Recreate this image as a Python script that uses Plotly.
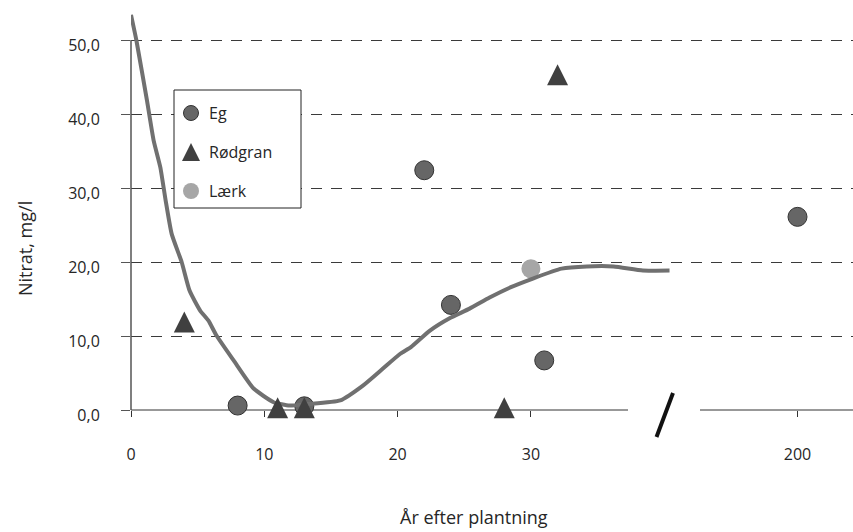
import plotly.graph_objects as go

# ---- data -------------------------------------------------------------
eg_years = [8, 13, 22, 24, 31, 200]
eg_nitrat = [0.6, 0.5, 32.4, 14.2, 6.7, 26.1]

rodgran_years = [4, 11, 13, 28, 32]
rodgran_nitrat = [11.9, 0.3, 0.3, 0.3, 45.3]

laerk_years = [30]
laerk_nitrat = [19.1]

trend_years = [0, 0.4, 1.2, 1.7, 2.2, 2.6, 3.05, 3.8, 4.4, 5.2, 5.8, 6.4, 7.7,
               9.2, 10.7, 11.9, 13.2, 15.7, 17.4, 18.9, 20.2, 21.0, 22.4, 23.9,
               25.4, 26.9, 28.5, 30.2, 32.3, 34.2, 36.2, 38.4, 40.4]
trend_nitrat = [53.4, 50.0, 41.8, 36.4, 32.8, 28.3, 23.8, 20.0, 16.1, 13.4, 12.1,
                10.1, 6.7, 2.9, 1.05, 0.6, 0.8, 1.3, 3.3, 5.6, 7.6, 8.5, 10.7,
                12.4, 13.7, 15.2, 16.6, 17.8, 19.1, 19.4, 19.4, 18.85, 18.85]

x_ticks = [0, 10, 20, 30, 200]
y_ticks = [0, 10, 20, 30, 40, 50]
y_tick_labels = ["0,0", "10,0", "20,0", "30,0", "40,0", "50,0"]

legend_names = ["Eg", "Rødgran", "Lærk"]

# ---- geometry ---------------------------------------------------------
W, H = 853, 532
ML, MR, MT, MB = 131, 0, 8, 122
PLOT_W, PLOT_H = W - ML - MR, H - MT - MB
X_PX, Y_PX = 13.33, 7.4          # pixels per year / per mg/l
X_MAX, Y_MAX = PLOT_W / X_PX, PLOT_H / Y_PX

TRI_SIZE, LEG_TRI_SIZE = 21, 18


def axis_x(year):
    # the axis is broken after ~40 years; 200 years sits at position 50
    return year if year < 100 else year - 150


def paper_x(px):
    return (px - ML) / PLOT_W


def paper_y(py):
    return (H - MB - py) / PLOT_H


def data_x(px):
    return (px - ML) / X_PX


def data_y(py):
    return (H - MB - py) / Y_PX


def triangle_axis(size):
    # "arrow-up" puts its tip on the point; an overlaid y axis lifted by half
    # the symbol height centres the triangle on its value instead
    lift = (size / 2) / Y_PX
    return dict(overlaying="y", range=[-lift, Y_MAX - lift], visible=False,
                showgrid=False, zeroline=False)


FONT = "Open Sans"
TEXT_COLOR = "#262626"
EG_FILL, EG_LINE = "#666666", "#333333"
ROD_FILL = "#404040"
LAERK_FILL = "#a6a6a6"
TREND_COLOR = "#707070"

fig = go.Figure()

# ---- series -----------------------------------------------------------
fig.add_trace(go.Scatter(
    x=[axis_x(v) for v in laerk_years], y=laerk_nitrat, mode="markers",
    marker=dict(symbol="circle", size=19, color=LAERK_FILL,
                line=dict(width=0)),
    cliponaxis=False, showlegend=False, hoverinfo="skip"))

fig.add_trace(go.Scatter(
    x=[axis_x(v) for v in eg_years], y=eg_nitrat, mode="markers",
    marker=dict(symbol="circle", size=19, color=EG_FILL,
                line=dict(width=1, color=EG_LINE)),
    cliponaxis=False, showlegend=False, hoverinfo="skip"))

fig.add_trace(go.Scatter(
    x=trend_years, y=trend_nitrat, mode="lines",
    line=dict(color=TREND_COLOR, width=4, shape="spline", smoothing=0.5),
    showlegend=False, hoverinfo="skip"))

fig.add_trace(go.Scatter(
    x=[axis_x(v) for v in rodgran_years], y=rodgran_nitrat, mode="markers",
    yaxis="y2",
    marker=dict(symbol="arrow-up", size=TRI_SIZE, color=ROD_FILL, line=dict(width=0)),
    cliponaxis=False, showlegend=False, hoverinfo="skip"))

# ---- hand-drawn legend ------------------------------------------------
LEG_LEFT, LEG_TOP, LEG_RIGHT, LEG_BOTTOM = 174, 90, 301, 208
LEG_MARK_X, LEG_TEXT_X = 191, 207
leg_rows = [113, 152, 191]
leg_styles = [
    dict(symbol="circle", size=15, color=EG_FILL, line=dict(width=1, color=EG_LINE)),
    dict(symbol="arrow-up", size=LEG_TRI_SIZE, color=ROD_FILL, line=dict(width=0)),
    dict(symbol="circle", size=16, color=LAERK_FILL, line=dict(width=0)),
]
leg_axes = ["y", "y3", "y"]

fig.add_shape(type="rect", xref="x", yref="y", layer="between",
              x0=data_x(LEG_LEFT), x1=data_x(LEG_RIGHT),
              y0=data_y(LEG_BOTTOM), y1=data_y(LEG_TOP),
              line=dict(color="#222222", width=1), fillcolor="white")

for name, row, style, yax in zip(legend_names, leg_rows, leg_styles, leg_axes):
    fig.add_trace(go.Scatter(
        x=[data_x(LEG_MARK_X)], y=[data_y(row)], mode="markers", yaxis=yax,
        marker=style, cliponaxis=False, showlegend=False, hoverinfo="skip"))
    fig.add_annotation(text=name, xref="paper", yref="paper",
                       x=paper_x(LEG_TEXT_X), y=paper_y(row),
                       xanchor="left", yanchor="middle", showarrow=False,
                       font=dict(family=FONT, size=16, color=TEXT_COLOR))

# ---- axis lines and break marker ---------------------------------------
AXIS_COLOR = "#333333"
fig.add_shape(type="line", xref="paper", yref="paper", layer="below",
              x0=0, x1=paper_x(628), y0=0, y1=0,
              line=dict(color=AXIS_COLOR, width=1))
fig.add_shape(type="line", xref="paper", yref="paper", layer="below",
              x0=paper_x(700), x1=1, y0=0, y1=0,
              line=dict(color=AXIS_COLOR, width=1))
fig.add_shape(type="line", xref="paper", yref="paper", layer="above",
              x0=0, x1=0, y0=0, y1=max(y_ticks) / Y_MAX,
              line=dict(color="#555555", width=1.5))
fig.add_shape(type="line", xref="paper", yref="paper", layer="above",
              x0=paper_x(656.5), y0=paper_y(437), x1=paper_x(673), y1=paper_y(393),
              line=dict(color="#111111", width=4))

# ---- titles -----------------------------------------------------------
fig.add_annotation(text="År efter plantning", xref="paper", yref="paper",
                   x=paper_x(474), y=paper_y(517), xanchor="center", yanchor="middle",
                   showarrow=False, font=dict(family=FONT, size=18, color=TEXT_COLOR))
fig.add_annotation(text="Nitrat, mg/l", xref="paper", yref="paper",
                   x=paper_x(25), y=paper_y(248), xanchor="center", yanchor="middle",
                   textangle=-90, showarrow=False,
                   font=dict(family=FONT, size=18, color=TEXT_COLOR))

# ---- layout -----------------------------------------------------------
fig.update_layout(
    width=W, height=H,
    margin=dict(l=ML, r=MR, t=MT, b=MB, pad=0),
    paper_bgcolor="white", plot_bgcolor="rgba(0,0,0,0)",
    showlegend=False,
    xaxis=dict(range=[0, X_MAX], showgrid=False, zeroline=False, showline=False,
               tickmode="array", tickvals=[axis_x(v) for v in x_ticks],
               ticktext=[str(v) for v in x_ticks],
               ticks="outside", ticklen=6, tickwidth=1, tickcolor=AXIS_COLOR,
               ticklabelstandoff=24,
               tickfont=dict(family=FONT, size=16, color=TEXT_COLOR)),
    yaxis=dict(range=[0, Y_MAX], zeroline=False, showline=False,
               tickmode="array", tickvals=y_ticks, ticktext=y_tick_labels,
               showgrid=True, gridcolor="#3a3a3a", gridwidth=1, griddash="11px,9px",
               ticks="outside", ticklen=9, tickwidth=1, tickcolor="#555555",
               ticklabelstandoff=18, ticklabelshift=5,
               tickfont=dict(family=FONT, size=16, color=TEXT_COLOR)),
    yaxis2=triangle_axis(TRI_SIZE),
    yaxis3=triangle_axis(LEG_TRI_SIZE),
)

fig.write_html("out.html")
